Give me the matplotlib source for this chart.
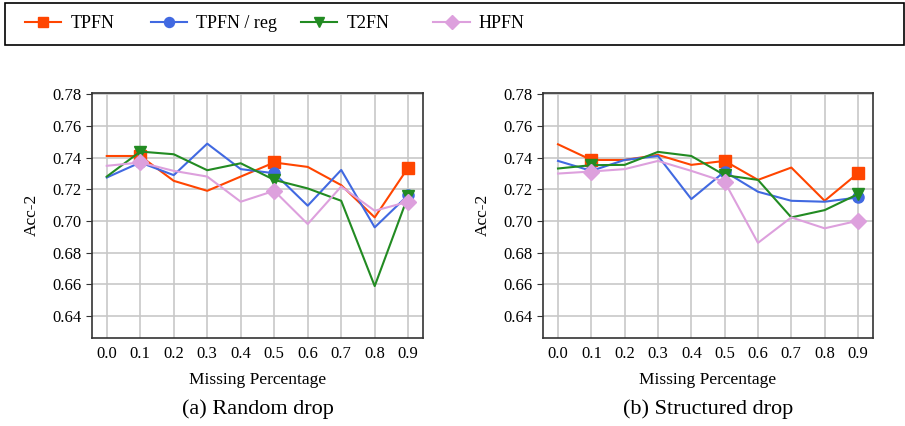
import numpy as np
import matplotlib.pyplot as plt
from matplotlib.patches import Rectangle

plt.rcParams['font.family'] = ['Liberation Serif', 'DejaVu Serif']

missing = [0.0, 0.1, 0.2, 0.3, 0.4, 0.5, 0.6, 0.7, 0.8, 0.9]
names = ['TPFN', 'TPFN / reg', 'T2FN', 'HPFN']
colors = ['orangered', 'royalblue', 'forestgreen', 'plum']
markers = ['s', 'o', 'v', 'D']

# (a) Random drop
random_tpfn = [0.741, 0.741, 0.7253, 0.719, 0.728, 0.7369, 0.7341, 0.7226, 0.7022, 0.7337]
random_reg = [0.7274, 0.7369, 0.7289, 0.7488, 0.7327, 0.7301, 0.7096, 0.7322, 0.6959, 0.7163]
random_t2fn = [0.728, 0.7438, 0.7421, 0.732, 0.7364, 0.7259, 0.7205, 0.7127, 0.6588, 0.7159]
random_hpfn = [0.7348, 0.7369, 0.7316, 0.728, 0.7121, 0.719, 0.698, 0.7217, 0.7064, 0.7121]

# (b) Structured drop
struct_tpfn = [0.7484, 0.7385, 0.7385, 0.7417, 0.7354, 0.7379, 0.7259, 0.7337, 0.7127, 0.7301]
struct_reg = [0.7379, 0.7316, 0.7385, 0.741, 0.7138, 0.7312, 0.7184, 0.7127, 0.7121, 0.7148]
struct_t2fn = [0.7331, 0.7352, 0.7354, 0.7436, 0.741, 0.7289, 0.7259, 0.7022, 0.7068, 0.7169]
struct_hpfn = [0.7299, 0.7312, 0.7327, 0.7379, 0.7316, 0.7247, 0.6861, 0.7022, 0.6953, 0.7001]

yticks = [0.64, 0.66, 0.68, 0.70, 0.72, 0.74, 0.76, 0.78]

fig = plt.figure(figsize=(9.05, 4.26), dpi=100)
ax1 = fig.add_axes([0.1013, 0.2066, 0.3664, 0.5758])
ax2 = fig.add_axes([0.600, 0.2066, 0.3646, 0.5758])

panels = [
    (ax1, [random_tpfn, random_reg, random_t2fn, random_hpfn], '(a) Random drop'),
    (ax2, [struct_tpfn, struct_reg, struct_t2fn, struct_hpfn], '(b) Structured drop'),
]

for ax, series, caption in panels:
    for vals, name, c, m in zip(series, names, colors, markers):
        ax.plot(missing, vals, color=c, marker=m, markevery=[1, 5, 9],
                markersize=8, linewidth=1.5, label=name)
    ax.set_ylim(0.626, 0.781)
    ax.set_xticks(missing)
    ax.set_xticklabels(['%.1f' % v for v in missing])
    ax.set_yticks(yticks)
    ax.set_yticklabels(['%.2f' % v for v in yticks])
    ax.grid(True, color='#c8c8c8', linewidth=1.2)
    ax.set_axisbelow(True)
    ax.tick_params(axis='x', length=0, labelsize=12, pad=6)
    ax.tick_params(axis='y', length=4, labelsize=12, color='#333333')
    for sp in ax.spines.values():
        sp.set_color('#333333')
        sp.set_linewidth(1.2)
    ax.set_xlabel('Missing Percentage', fontsize=12.5, labelpad=7)
    ax.set_ylabel('Acc-2', fontsize=12.5, labelpad=9)
    ax.text(0.5, -0.29, caption, transform=ax.transAxes, ha='center', va='center', fontsize=16)

# legend: one entry per slot, inside a wide box across the top
handles, labels = ax1.get_legend_handles_labels()
slots = [0.028, 0.167, 0.333, 0.479]
for h, l, x in zip(handles, labels, slots):
    fig.legend([h], [l], loc='center left', bbox_to_anchor=(x, 0.944),
               frameon=False, fontsize=13, handlelength=2.0, handletextpad=0.5,
               borderpad=0, borderaxespad=0, markerscale=0.9)
fig.add_artist(Rectangle((0.0055, 0.894), 0.993, 0.099, transform=fig.transFigure,
                         fill=False, edgecolor='black', linewidth=1.2))

fig.savefig('out.png', dpi=100)
